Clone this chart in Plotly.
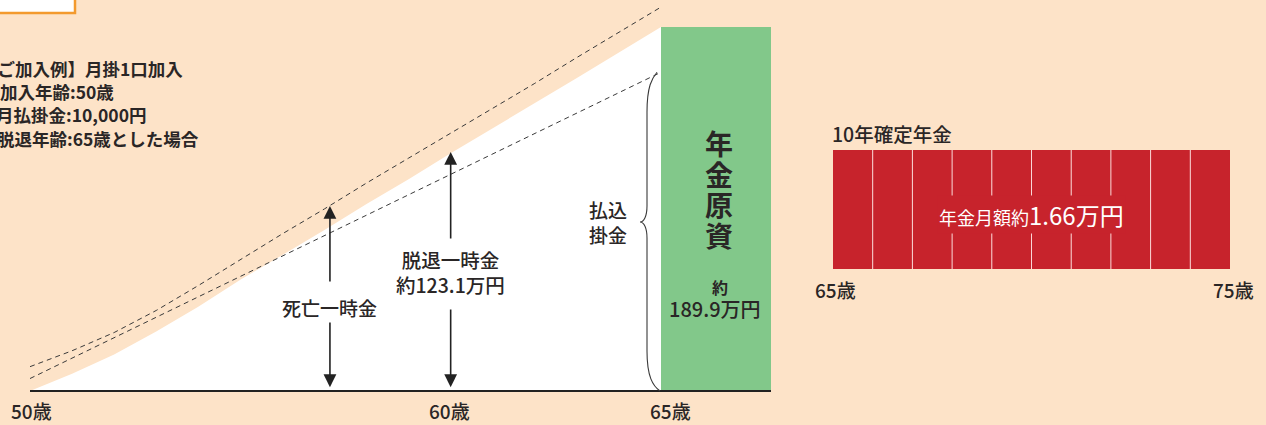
import plotly.graph_objects as go

# ---------------- data ----------------
ages = [50, 51, 52, 53, 54, 55, 56, 57, 58, 59, 60, 61, 62, 63, 64, 65]
fund_value = [0, 9, 19, 31, 44, 58, 71, 84, 97.5, 110.5, 124, 137, 150.2, 163.3, 176.6, 189.9]      # 万円 (white area)
death_benefit = [12.7, 21, 30.5, 42, 55, 68.5, 82, 95, 108.5, 121.5, 134.5, 147.5, 160.5, 174, 187, 200.3]
paid_ages = [50, 65]
paid_in = [6.5, 166.3]                      # 払込掛金 (dashed straight line)
pension_fund = 189.9                        # 年金原資 約189.9万円
withdrawal_age = 60
withdrawal_amount = 123.1                   # 脱退一時金 約123.1万円
death_age = 57.13
death_top = 96.5
age_ticks = [50, 60, 65]
age_tick_text = ["50歳", "60歳", "65歳"]

annuity_years = [65, 66, 67, 68, 69, 70, 71, 72, 73, 74]
monthly_pension = 1.66                      # 年金月額 約1.66万円
annuity_ticks = [65, 75]
annuity_tick_text = ["65歳", "75歳"]

info_lines = ["【ご加入例】月掛1口加入", "加入年齢:50歳", "月払掛金:10,000円", "脱退年齢:65歳とした場合"]

# ---------------- style ----------------
BG = "#FDE3C8"
GREEN = "#82C88A"
RED = "#C7232C"
INK = "#2a2626"
FONT = "Noto Sans CJK JP"
W, H = 1266, 425

# pixel calibration of the axes
px_year = (661 - 30) / 15.0
x_range = [50 - 30 / px_year, 50 + (W - 30) / px_year]
px_unit = (391 - 27) / pension_fund
y_range = [-(H - 391) / px_unit, 391 / px_unit]

px_year2 = (1230 - 833) / 10.0
x2_range = [65 - 833 / px_year2, 75 + (W - 1230) / px_year2]
px_unit2 = (269 - 150) / monthly_pension
y2_range = [-(H - 269) / px_unit2, 269 / px_unit2]

bar_w = (771 - 661) / px_year

fig = go.Figure()

# white accumulated area
fig.add_trace(go.Scatter(x=ages, y=fund_value, mode="lines", fill="tozeroy",
                         fillcolor="white", line=dict(width=0, color="white"),
                         hoverinfo="skip", showlegend=False))
# green pension fund bar
fig.add_trace(go.Bar(x=[65 + bar_w / 2], y=[pension_fund], width=[bar_w],
                     marker=dict(color=GREEN, line=dict(width=0)),
                     hoverinfo="skip", showlegend=False))
# dashed lines
fig.add_trace(go.Scatter(x=ages, y=death_benefit, mode="lines",
                         line=dict(color="#3a3a3a", width=1, dash="5px,4px"),
                         hoverinfo="skip", showlegend=False))
fig.add_trace(go.Scatter(x=paid_ages, y=paid_in, mode="lines",
                         line=dict(color="#3a3a3a", width=1, dash="5px,4px"),
                         hoverinfo="skip", showlegend=False))
# baseline
fig.add_trace(go.Scatter(x=[ages[0], 65 + bar_w], y=[0, 0], mode="lines",
                         line=dict(color="#222", width=1.8),
                         hoverinfo="skip", showlegend=False))

# annuity (red) bars
fig.add_trace(go.Bar(x=[a + 0.5 for a in annuity_years], y=[monthly_pension] * len(annuity_years),
                     width=[1] * len(annuity_years), marker=dict(color=RED, line=dict(width=0)),
                     xaxis="x2", yaxis="y2", hoverinfo="skip", showlegend=False))

shapes = []
for a in annuity_years[1:]:
    shapes.append(dict(type="line", xref="x2", yref="y2", x0=a, x1=a, y0=0, y1=monthly_pension,
                       line=dict(color="rgba(255,230,230,0.9)", width=1)))

# curly brace for 払込掛金
sx = 65 - 14 / px_year
tx = 65 - 21 / px_year
ex_top = 65 - 4 / px_year
ex_bot = 65 - 1 / px_year
top = paid_in[1]
mid = (391 - 222) / px_unit
d = lambda p: p / px_unit
brace = (f"M {ex_top},{top} C {65 - 9 / px_year},{top - d(6)} {sx},{top - d(14)} {sx},{top - d(40)} "
         f"L {sx},{mid + d(16)} C {sx},{mid + d(6)} {65 - 17 / px_year},{mid} {tx},{mid} "
         f"C {65 - 17 / px_year},{mid} {sx},{mid - d(6)} {sx},{mid - d(16)} "
         f"L {sx},{d(40)} C {sx},{d(14)} {65 - 8 / px_year},{d(5)} {ex_bot},0")
shapes.append(dict(type="path", xref="x", yref="y", path=brace,
                   line=dict(color="#3a3a3a", width=1.1)))

# top-left box (cut off)
shapes.append(dict(type="rect", xref="paper", yref="paper",
                   x0=-10 / W, x1=75 / W, y0=1 - 13 / H, y1=1 + 10 / H,
                   fillcolor="white", line=dict(color="#F39A2E", width=2.5)))

ann = []


def txt(x, y, text, size=17, xref="x", yref="y", xanchor="center", color=INK, weight=500, **kw):
    ann.append(dict(x=x, y=y, xref=xref, yref=yref, text=text, showarrow=False,
                    xanchor=xanchor, yanchor="middle",
                    font=dict(family=FONT, size=size, color=color, weight=weight), **kw))


def arrow(x, y_tip, y_tail):
    ann.append(dict(x=x, y=y_tip, ax=x, ay=y_tail, xref="x", yref="y", axref="x", ayref="y",
                    text="", showarrow=True, arrowhead=2, arrowsize=1.6, arrowwidth=1.6,
                    arrowcolor="#222", standoff=0))


# info block
info_right = [185, 116, 149, 201]
info_y = [68, 91, 114.5, 138]
for line, xr, yy in zip(info_lines, info_right, info_y):
    txt(xr / W, 1 - yy / H, line, size=17.5, xref="paper", yref="paper", xanchor="right", weight=700)

# age labels (left)
shifts = [1, -1, 9]
for a, t, s in zip(age_ticks, age_tick_text, shifts):
    txt(a, -(410 - 391) / px_unit, t, size=19, xshift=s)

# death benefit arrow
lbl_y = (391 - 307) / px_unit
arrow(death_age, death_top, (391 - 283) / px_unit)
arrow(death_age, 2, (391 - 321) / px_unit)
txt(death_age, lbl_y, "死亡一時金", size=19)

# withdrawal arrow
arrow(withdrawal_age, (391 - 152) / px_unit, (391 - 240) / px_unit)
arrow(withdrawal_age, 2, (391 - 308) / px_unit)
txt(withdrawal_age, (391 - 272) / px_unit, f"脱退一時金<br>約{withdrawal_amount}万円", size=19.5)

# paid-in brace label
txt(50 + (608 - 30) / px_year, mid, "払込<br>掛金", size=19)

# green bar texts
gx = 65 + bar_w / 2
for ch, yy in zip("年金原資", [143, 173.5, 204, 235]):
    txt(gx, (391 - yy) / px_unit, ch, size=28, xshift=3, weight=700)
txt(gx, (391 - 287) / px_unit, "約", size=16, xshift=4, weight=700)
txt(gx, (391 - 308) / px_unit, f"{pension_fund}万円", size=20, xshift=-1)

# right panel texts
txt(65 - 3 / px_year2, (269 - 133) / px_unit2, "10年確定年金", size=19.5, xref="x2", yref="y2", xanchor="left")
for a, t in zip(annuity_ticks, annuity_tick_text):
    txt(a, -(289 - 269) / px_unit2, t, size=19, xref="x2", yref="y2", xshift=3 if a == 75 else 2)
ann.append(dict(x=70.0, y=(269 - 214) / px_unit2, xref="x2", yref="y2", showarrow=False,
                text=f"年金月額約<span style='font-size:24px'>{monthly_pension}万円</span>",
                font=dict(family=FONT, size=18, color="white"), bgcolor=RED, borderpad=1,
                xanchor="center", yanchor="middle"))

fig.update_layout(
    width=W, height=H, margin=dict(l=0, r=0, t=0, b=0),
    paper_bgcolor=BG, plot_bgcolor="rgba(0,0,0,0)", showlegend=False,
    font=dict(family=FONT, color=INK),
    xaxis=dict(domain=[0, 1], range=x_range, visible=False, fixedrange=True),
    yaxis=dict(domain=[0, 1], range=y_range, visible=False, fixedrange=True),
    xaxis2=dict(domain=[0, 1], range=x2_range, visible=False, anchor="y2", fixedrange=True),
    yaxis2=dict(domain=[0, 1], range=y2_range, visible=False, anchor="x2", fixedrange=True),
    shapes=shapes, annotations=ann, barmode="overlay",
)

fig.write_html("out.html", config={"displayModeBar": False},
               post_script="document.body.style.margin='0';document.body.style.overflow='hidden';")
